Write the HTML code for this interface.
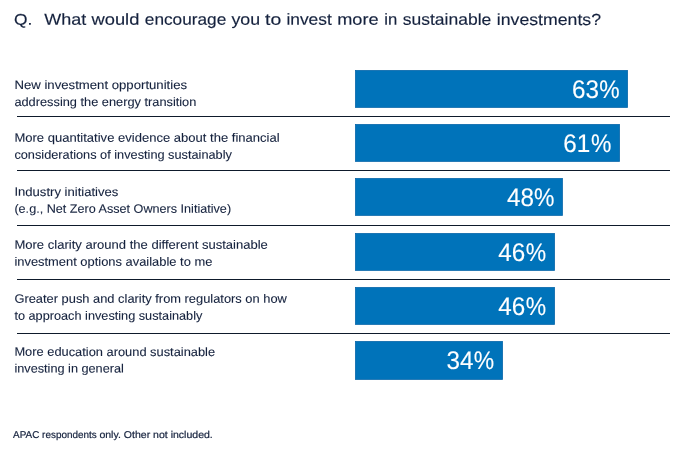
<!DOCTYPE html>
<html lang="en">
<head>
<meta charset="utf-8">
<title>What would encourage you to invest more in sustainable investments?</title>
<style>
html,body{margin:0;padding:0;background:#fff;}
body{width:687px;height:449px;overflow:hidden;font-family:"Liberation Sans",sans-serif;}
svg{display:block;}
text{font-family:"Liberation Sans",sans-serif;text-rendering:geometricPrecision;}
.q{font-size:16px;fill:#14213d;stroke:#14213d;stroke-width:0.15;}
.lbl{font-size:12.15px;fill:#14213d;stroke:#14213d;stroke-width:0.1;}
.val{font-size:25.5px;fill:#fff;stroke:#fff;stroke-width:0.12;}
.note{font-size:9.9px;fill:#14213d;stroke:#14213d;stroke-width:0.2;}
.bar{fill:#0073ba;stroke:#0a68ab;stroke-width:0.8;}
.rule{stroke:#0e1a2b;stroke-width:1;}
</style>
</head>
<body>
<svg width="687" height="449" viewBox="0 0 687 449">
<rect width="687" height="449" fill="#ffffff"/>
<g class="q">
<text transform="matrix(1.12 0.0005 0 1 14.10 24.80)" style="font-size:15.5px">Q.</text>
<text transform="matrix(1 0.0005 0 1 0.00 24.64)"><tspan x="44.3" textLength="42.0" lengthAdjust="spacingAndGlyphs">What</tspan> <tspan x="91.5" textLength="47.9" lengthAdjust="spacingAndGlyphs">would</tspan> <tspan x="144.8" textLength="81.5" lengthAdjust="spacingAndGlyphs">encourage</tspan> <tspan x="231.4" textLength="28.7" lengthAdjust="spacingAndGlyphs">you</tspan> <tspan x="265.0" textLength="16.2" lengthAdjust="spacingAndGlyphs">to</tspan> <tspan x="286.4" textLength="45.4" lengthAdjust="spacingAndGlyphs">invest</tspan> <tspan x="337.2" textLength="41.4" lengthAdjust="spacingAndGlyphs">more</tspan> <tspan x="384.3" textLength="13.0" lengthAdjust="spacingAndGlyphs">in</tspan> <tspan x="402.7" textLength="88.6" lengthAdjust="spacingAndGlyphs">sustainable</tspan> <tspan x="496.8" textLength="104.2" lengthAdjust="spacingAndGlyphs">investments?</tspan></text>
</g>
<g>
<text class="lbl" transform="matrix(1 0.0005 0 1 14.40 88.96)" textLength="172.70" lengthAdjust="spacingAndGlyphs">New investment opportunities</text>
<text class="lbl" transform="matrix(1 0.0005 0 1 14.40 105.95)" textLength="181.95" lengthAdjust="spacingAndGlyphs">addressing the energy transition</text>
<rect class="bar" x="355.4" y="70.4" width="272.20" height="37.00"/>
<text class="val" transform="matrix(1 0.0005 0 1 572.00 97.69)"><tspan x="0" textLength="27.0" lengthAdjust="spacingAndGlyphs">63</tspan><tspan x="27.15" textLength="20.4" lengthAdjust="spacingAndGlyphs">%</tspan></text>
</g>
<g>
<text class="lbl" transform="matrix(1 0.0005 0 1 14.40 141.73)" textLength="265.20" lengthAdjust="spacingAndGlyphs">More quantitative evidence about the financial</text>
<text class="lbl" transform="matrix(1 0.0005 0 1 14.40 158.65)" textLength="217.45" lengthAdjust="spacingAndGlyphs">considerations of investing sustainably</text>
<rect class="bar" x="355.4" y="124.4" width="264.20" height="37.00"/>
<text class="val" transform="matrix(1 0.0005 0 1 563.15 151.74)"><tspan x="0" textLength="27.0" lengthAdjust="spacingAndGlyphs">61</tspan><tspan x="27.80" textLength="20.4" lengthAdjust="spacingAndGlyphs">%</tspan></text>
</g>
<g>
<text class="lbl" transform="matrix(1 0.0005 0 1 14.40 195.87)" textLength="103.95" lengthAdjust="spacingAndGlyphs">Industry initiatives</text>
<text class="lbl" transform="matrix(1 0.0005 0 1 14.40 212.75)" textLength="216.70" lengthAdjust="spacingAndGlyphs">(e.g., Net Zero Asset Owners Initiative)</text>
<rect class="bar" x="355.4" y="178.4" width="207.05" height="37.00"/>
<text class="val" transform="matrix(1 0.0005 0 1 507.10 205.79)"><tspan x="0" textLength="27.0" lengthAdjust="spacingAndGlyphs">48</tspan><tspan x="26.95" textLength="20.4" lengthAdjust="spacingAndGlyphs">%</tspan></text>
</g>
<g>
<text class="lbl" transform="matrix(1 0.0005 0 1 14.40 248.74)" textLength="253.45" lengthAdjust="spacingAndGlyphs">More clarity around the different sustainable</text>
<text class="lbl" transform="matrix(1 0.0005 0 1 14.40 265.65)" textLength="197.95" lengthAdjust="spacingAndGlyphs">investment options available to me</text>
<rect class="bar" x="355.4" y="233.4" width="199.20" height="37.00"/>
<text class="val" transform="matrix(1 0.0005 0 1 498.20 260.99)"><tspan x="0" textLength="27.0" lengthAdjust="spacingAndGlyphs">46</tspan><tspan x="27.45" textLength="20.4" lengthAdjust="spacingAndGlyphs">%</tspan></text>
</g>
<g>
<text class="lbl" transform="matrix(1 0.0005 0 1 14.40 302.73)" textLength="272.45" lengthAdjust="spacingAndGlyphs">Greater push and clarity from regulators on how</text>
<text class="lbl" transform="matrix(1 0.0005 0 1 14.40 319.65)" textLength="187.95" lengthAdjust="spacingAndGlyphs">to approach investing sustainably</text>
<rect class="bar" x="355.4" y="287.4" width="199.20" height="37.00"/>
<text class="val" transform="matrix(1 0.0005 0 1 498.20 314.79)"><tspan x="0" textLength="27.0" lengthAdjust="spacingAndGlyphs">46</tspan><tspan x="27.45" textLength="20.4" lengthAdjust="spacingAndGlyphs">%</tspan></text>
</g>
<g>
<text class="lbl" transform="matrix(1 0.0005 0 1 14.40 355.85)" textLength="200.70" lengthAdjust="spacingAndGlyphs">More education around sustainable</text>
<text class="lbl" transform="matrix(1 0.0005 0 1 14.40 372.47)" textLength="109.45" lengthAdjust="spacingAndGlyphs">investing in general</text>
<rect class="bar" x="355.4" y="341.4" width="147.20" height="38.00"/>
<text class="val" transform="matrix(1 0.0005 0 1 446.50 368.79)"><tspan x="0" textLength="27.0" lengthAdjust="spacingAndGlyphs">34</tspan><tspan x="27.25" textLength="20.4" lengthAdjust="spacingAndGlyphs">%</tspan></text>
</g>
<line class="rule" x1="17" y1="116.5" x2="670" y2="116.5"/>
<line class="rule" x1="17" y1="170.5" x2="670" y2="170.5"/>
<line class="rule" x1="17" y1="225.5" x2="670" y2="225.5"/>
<line class="rule" x1="17" y1="279.5" x2="670" y2="279.5"/>
<line class="rule" x1="17" y1="333.5" x2="670" y2="333.5"/>
<text class="note" transform="matrix(1 0.0005 0 1 13.10 437.95)"><tspan x="0" textLength="83.6" lengthAdjust="spacingAndGlyphs">APAC respondents</tspan> <tspan x="86.3" textLength="113.4" lengthAdjust="spacingAndGlyphs">only. Other not included.</tspan></text>
</svg>
</body>
</html>
